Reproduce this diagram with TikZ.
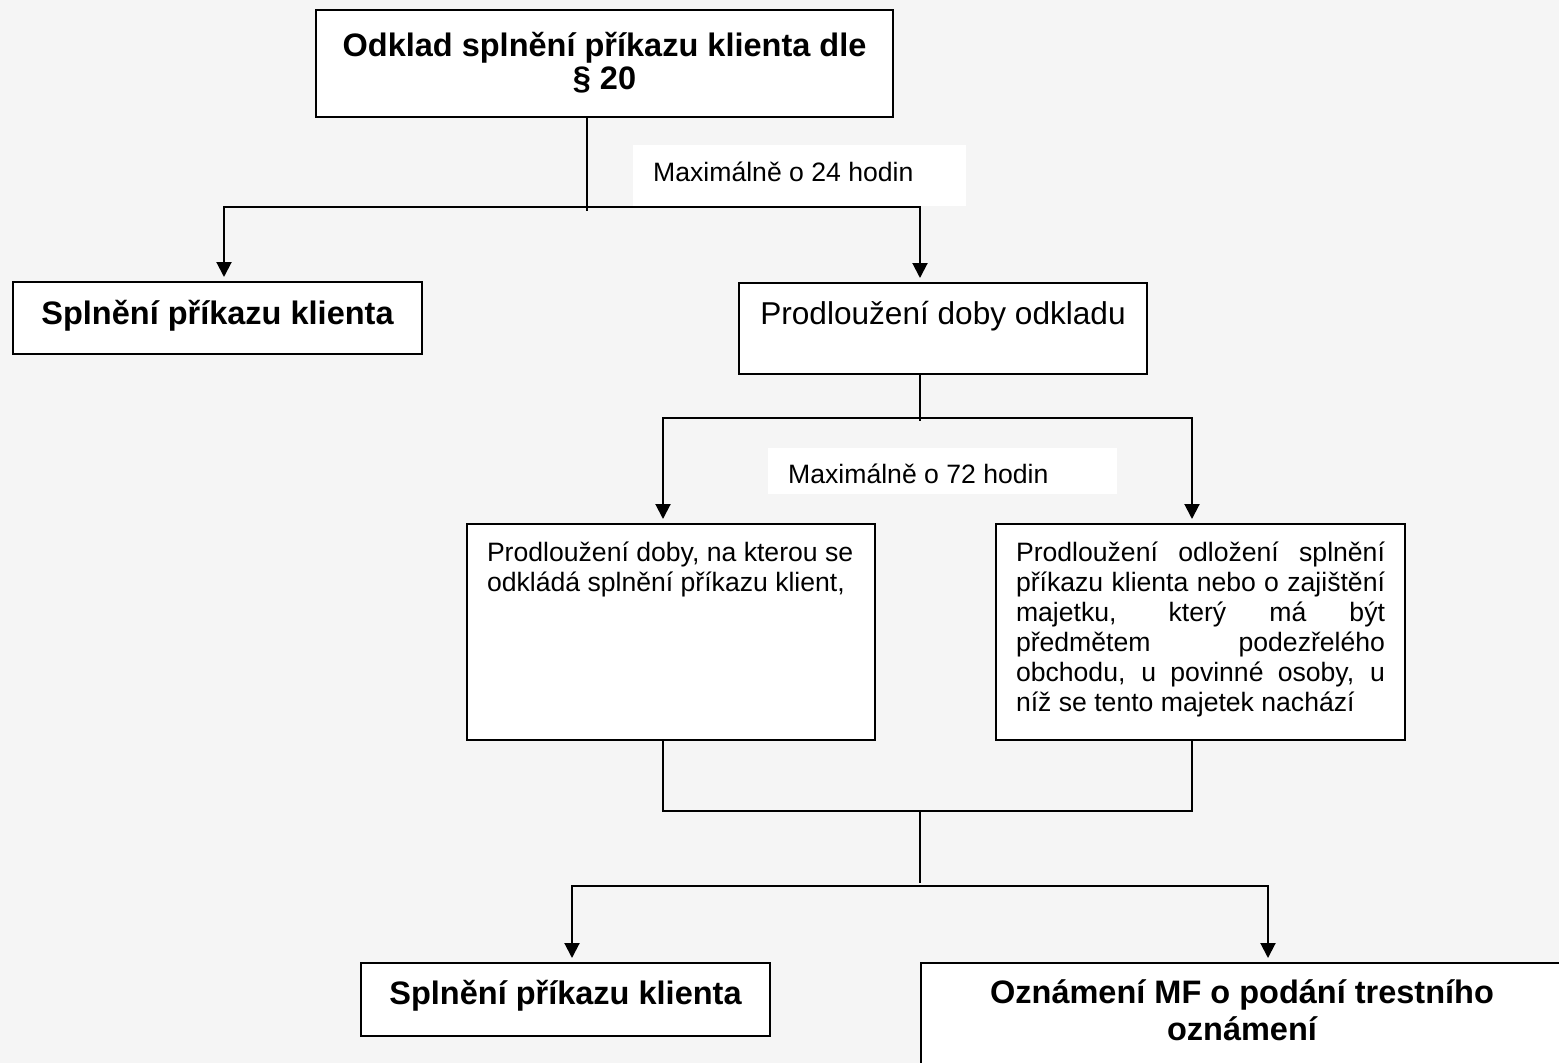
\documentclass[tikz,border=0pt]{standalone}
\usepackage{fontspec}
\setmainfont{Liberation Sans}
\usetikzlibrary{arrows.meta}

\definecolor{bgcol}{HTML}{F5F5F5}
\newcommand{\bigbold}{\bfseries\fontsize{32.5pt}{37pt}\selectfont}
\newcommand{\midfont}{\fontsize{31.6pt}{38pt}\selectfont}
\newcommand{\smallfont}{\fontsize{26.6pt}{30pt}\selectfont}
% width, height, alignment+font, first baseline, text
\newcommand{\boxtext}[5]{\parbox[t][#2][t]{#1}{#3\rule{0pt}{#4}#5\par}}

\begin{document}
\begin{tikzpicture}[x=1pt, y=-1pt,
    box/.style={draw=black, line width=2pt, fill=white, inner xsep=20pt, inner ysep=0pt, anchor=north west},
    lbl/.style={fill=white, inner xsep=20pt, inner ysep=0pt, anchor=north west},
    arr/.style={line width=2pt, {Triangle[length=15pt,width=15pt]}-{Triangle[length=15pt,width=15pt]}, shorten <=4pt, shorten >=4pt},
    con/.style={line width=2pt}]
        \fill[bgcol] (0,0) rectangle (1559,1063);
        \useasboundingbox (0,0) rectangle (1559,1063);

        % boxes
        \node[box] (top) at (315,9) {\boxtext{537pt}{107pt}{\centering\bigbold\baselineskip=33pt}{46pt}{Odklad splnění příkazu klienta dle\\§ 20}};
        \node[box] (left1) at (12,281) {\boxtext{369pt}{72pt}{\centering\bigbold}{42pt}{Splnění příkazu klienta}};
        \node[box] (prod) at (738,282) {\boxtext{368pt}{91pt}{\centering\midfont}{41pt}{Prodloužení doby odkladu}};
        \node[box] (midL) at (466,523) {\boxtext{368pt}{216pt}{\raggedright\smallfont}{37pt}{Prodloužení doby, na kterou se\\odkládá splnění příkazu klient,}};
        \node[box] (midR) at (995,523) {\boxtext{369pt}{216pt}{\smallfont\tolerance=10000\hyphenpenalty=10000}{37pt}{Prodloužení odložení splnění\linebreak příkazu klienta nebo o zajištění\linebreak majetku, který má být\linebreak předmětem podezřelého\linebreak obchodu, u povinné osoby, u\linebreak níž se tento majetek nachází}};
        \node[box] (botL) at (360,962) {\boxtext{369pt}{73pt}{\centering\bigbold}{41pt}{Splnění příkazu klienta}};
        \node[box] (botR) at (920,962) {\boxtext{602pt}{118pt}{\centering\bigbold}{40pt}{Oznámení MF o podání trestního\\oznámení}};

        % labels
        \node[lbl] (lbl1) at (633,145) {\boxtext{293pt}{61pt}{\raggedright\smallfont}{36pt}{Maximálně o 24 hodin}};
        \node[lbl] (lbl2) at (768,448) {\boxtext{309pt}{46pt}{\raggedright\smallfont}{35pt}{Maximálně o 72 hodin}};

        % connectors
        \coordinate (j1) at (587,211);
        \coordinate (b1l) at (224,207);
        \coordinate (b1r) at (920,207);
        \draw[con] (top.south -| j1) -- (j1);
        \draw[arr] (b1l |- left1.north) -- (b1l) -- (b1r) -- (b1r |- prod.north);

        \coordinate (j2) at (920,421);
        \coordinate (b2l) at (663,418);
        \coordinate (b2r) at (1192,418);
        \draw[con] (prod.south -| j2) -- (j2);
        \draw[arr] (b2l |- midL.north) -- (b2l) -- (b2r) -- (b2r |- midR.north);

        \coordinate (m3) at (920,811);
        \coordinate (j4) at (920,883);
        \coordinate (b4l) at (572,886);
        \coordinate (b4r) at (1268,886);
        \draw[con] (midL.south -| b2l) |- (m3) -| (midR.south -| b2r);
        \draw[con] (m3) -- (j4);
        \draw[arr] (b4l |- botL.north) -- (b4l) -- (b4r) -- (b4r |- botR.north);
    \end{tikzpicture}
\end{document}
